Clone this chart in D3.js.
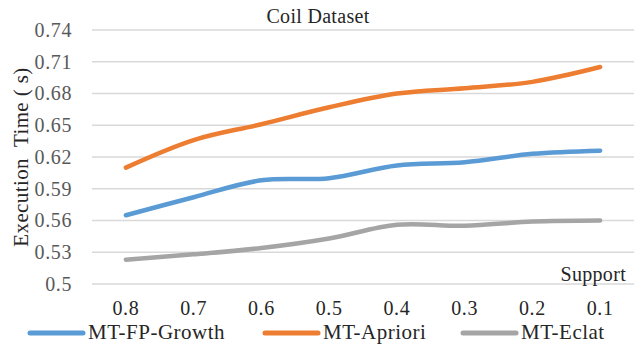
<!DOCTYPE html>
<html>
<head>
<meta charset="utf-8">
<script src="https://cdn.jsdelivr.net/npm/d3@7"></script>
<style>
  body { margin: 0; background: #fff; }
</style>
</head>
<body>
<div id="chart"></div>
<script>
// chart data
let supportLevels = ["0.8", "0.7", "0.6", "0.5", "0.4", "0.3", "0.2", "0.1"];
let fpGrowth = [0.565, 0.582, 0.598, 0.600, 0.612, 0.615, 0.623, 0.626];
let apriori = [0.610, 0.636, 0.651, 0.667, 0.680, 0.685, 0.691, 0.705];
let eclat = [0.523, 0.528, 0.534, 0.543, 0.556, 0.555, 0.559, 0.560];
let yTicks = [0.5, 0.53, 0.56, 0.59, 0.62, 0.65, 0.68, 0.71, 0.74];

let seriesList = [
  { name: "MT-FP-Growth", values: fpGrowth, color: "#5B9BD5" },
  { name: "MT-Apriori", values: apriori, color: "#ED7D31" },
  { name: "MT-Eclat", values: eclat, color: "#A5A5A5" }
];

let fontFamily = "'Liberation Serif', 'Times New Roman', serif";

let svgWidth = 639;
let svgHeight = 356;
let margin = { top: 30, right: 5, bottom: 72, left: 92 };
let chartWidth = svgWidth - margin.left - margin.right;
let chartHeight = svgHeight - margin.top - margin.bottom;

let svg = d3.select("#chart")
  .append("svg")
  .attr("width", svgWidth)
  .attr("height", svgHeight)
  .style("font-family", fontFamily);

let chartGroup = svg.append("g")
  .attr("transform", `translate(${margin.left}, ${margin.top})`);

let xScale = d3.scaleBand()
  .domain(supportLevels)
  .range([0, chartWidth]);

let yScale = d3.scaleLinear()
  .domain([0.5, 0.74])
  .range([chartHeight, 0]);

// gridlines
chartGroup.append("g")
  .selectAll("line")
  .data(yTicks)
  .enter()
  .append("line")
  .attr("x1", 0)
  .attr("x2", chartWidth)
  .attr("y1", d => yScale(d))
  .attr("y2", d => yScale(d))
  .attr("stroke", "#D9D9D9")
  .attr("stroke-width", 1.5);

// y axis labels
let yAxis = d3.axisLeft(yScale)
  .tickValues(yTicks)
  .tickFormat(d => String(+d.toFixed(2)))
  .tickSize(0)
  .tickPadding(20);

chartGroup.append("g")
  .attr("class", "y-axis")
  .call(yAxis)
  .attr("font-family", fontFamily)
  .call(g => g.select(".domain").remove())
  .selectAll("text")
  .attr("fill", "#595959")
  .style("font-size", "20px")
  .style("letter-spacing", "0.6px");

// x axis labels
let xAxis = d3.axisBottom(xScale)
  .tickSize(0)
  .tickPadding(17);

chartGroup.append("g")
  .attr("class", "x-axis")
  .attr("transform", `translate(0, ${chartHeight})`)
  .call(xAxis)
  .attr("font-family", fontFamily)
  .call(g => g.select(".domain").remove())
  .selectAll("text")
  .attr("fill", "#262626")
  .style("font-size", "20px")
  .style("letter-spacing", "0.6px");

// lines
let line = d3.line()
  .x((d, i) => xScale(supportLevels[i]) + xScale.bandwidth() / 2)
  .y(d => yScale(d))
  .curve(d3.curveCatmullRom.alpha(0.5));

chartGroup.selectAll(".series")
  .data(seriesList)
  .enter()
  .append("path")
  .attr("class", "series")
  .attr("d", d => line(d.values))
  .attr("fill", "none")
  .attr("stroke", d => d.color)
  .attr("stroke-width", 4.5)
  .attr("stroke-linecap", "round");

// title
svg.append("text")
  .attr("x", 318)
  .attr("y", 23)
  .attr("text-anchor", "middle")
  .attr("fill", "#262626")
  .style("font-size", "20px")
  .style("letter-spacing", "0.3px")
  .text("Coil Dataset");

// y title
svg.append("text")
  .attr("transform", "translate(28, 157) rotate(-90)")
  .attr("text-anchor", "middle")
  .attr("fill", "#262626")
  .style("font-size", "21px")
  .style("letter-spacing", "0.4px")
  .style("white-space", "pre")
  .text("Execution  Time ( s)");

// x title
svg.append("text")
  .attr("x", 626)
  .attr("y", 281)
  .attr("text-anchor", "end")
  .attr("fill", "#262626")
  .style("font-size", "20px")
  .style("letter-spacing", "0.3px")
  .text("Support");

// legend
let legendX = [30, 265, 463];
let legend = svg.append("g").attr("class", "legend");
seriesList.forEach(function (s, i) {
  legend.append("line")
    .attr("x1", legendX[i])
    .attr("x2", legendX[i] + 53)
    .attr("y1", 333)
    .attr("y2", 333)
    .attr("stroke", s.color)
    .attr("stroke-width", 5)
    .attr("stroke-linecap", "round");
  legend.append("text")
    .attr("x", legendX[i] + 58)
    .attr("y", 339)
    .attr("fill", "#262626")
    .style("font-size", "21px")
    .style("letter-spacing", "0.5px")
    .text(s.name);
});
</script>
</body>
</html>
